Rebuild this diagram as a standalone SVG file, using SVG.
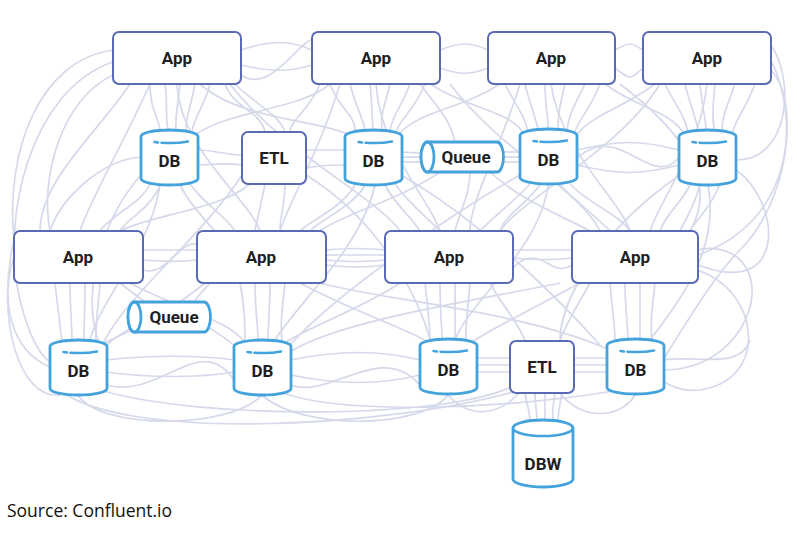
<svg xmlns="http://www.w3.org/2000/svg" xmlns:xlink="http://www.w3.org/1999/xlink" width="800" height="534" viewBox="0 0 800 534">
<style>
.c{fill:none;stroke:#d5d9ea;stroke-width:1.7}
.box{fill:#fff;stroke:#5a6ab4;stroke-width:2}
.cyl{fill:#fff;stroke:#44a2dc;stroke-width:2.8}
.cylf{fill:none;stroke:#44a2dc;stroke-width:2.6;stroke-linecap:round}
.t{font-family:Roboto,"Liberation Sans",Arial,sans-serif;font-weight:700;font-size:17px;fill:#1e1e1e;text-anchor:middle}
.src{font-family:"Open Sans","Liberation Sans",sans-serif;font-size:17.5px;fill:#111}
</style>
<defs>
<g id="cyl">
<path class="cyl" d="M0,6.5 A28.5,6.5 0 0 1 57,6.5 V48.5 A28.5,6.5 0 0 1 0,48.5 Z"/>
<path class="cylf" d="M13.5,12 L17,12.5 M20.5,12.7 A28.5,6.5 0 0 0 47,11.45"/>
</g>
<g id="que">
<path class="cyl" d="M6.5,0 H76 A6.5,15 0 0 1 76,30 H6.5 A6.5,15 0 0 1 6.5,0 Z"/>
<ellipse class="cyl" cx="6.5" cy="15" rx="6.5" ry="15"/>
</g>
</defs>
<rect width="800" height="534" fill="#fff"/>
<g id="connectors">
<path class="c" d="M150 84 C150 110 158 115 160 130"/>
<path class="c" d="M165 84 C168 105 165 115 168 130"/>
<path class="c" d="M180 84 C178 105 175 115 176 130"/>
<path class="c" d="M195 84 C190 110 185 120 186 130"/>
<path class="c" d="M210 84 C205 105 195 115 192 131"/>
<path class="c" d="M225 84 C235 110 260 110 265 132"/>
<path class="c" d="M235 84 C250 100 280 115 285 132"/>
<path class="c" d="M200 84 C240 120 320 120 350 135"/>
<path class="c" d="M241 50 C270 40 290 40 312 50"/>
<path class="c" d="M241 65 C270 72 290 72 312 65"/>
<path class="c" d="M241 75 C270 95 300 40 312 40"/>
<path class="c" d="M440 50 C460 42 470 42 488 50"/>
<path class="c" d="M440 68 C460 75 470 75 488 68"/>
<path class="c" d="M615 50 C630 42 630 42 643 50"/>
<path class="c" d="M615 68 C630 80 630 80 643 68"/>
<path class="c" d="M330 84 C300 110 230 110 195 135"/>
<path class="c" d="M320 84 C310 110 290 120 290 132"/>
<path class="c" d="M330 84 C340 110 355 115 355 130"/>
<path class="c" d="M350 84 C355 105 362 115 365 130"/>
<path class="c" d="M370 84 C372 105 372 115 373 128"/>
<path class="c" d="M390 84 C385 105 380 115 382 129"/>
<path class="c" d="M410 84 C400 110 392 115 390 131"/>
<path class="c" d="M425 84 C415 110 398 120 396 133"/>
<path class="c" d="M430 84 C470 110 510 110 525 135"/>
<path class="c" d="M420 84 C440 110 450 120 455 142"/>
<path class="c" d="M500 84 C460 110 420 110 398 135"/>
<path class="c" d="M505 84 C515 105 525 115 528 132"/>
<path class="c" d="M525 84 C530 105 535 115 538 129"/>
<path class="c" d="M545 84 C545 105 548 115 548 128"/>
<path class="c" d="M565 84 C560 105 558 115 558 129"/>
<path class="c" d="M585 84 C575 105 568 115 567 131"/>
<path class="c" d="M600 84 C590 110 578 120 574 134"/>
<path class="c" d="M605 84 C640 110 670 110 685 135"/>
<path class="c" d="M655 84 C620 110 590 115 575 137"/>
<path class="c" d="M665 84 C675 105 685 115 688 133"/>
<path class="c" d="M685 84 C690 105 695 115 698 129"/>
<path class="c" d="M700 84 C702 105 705 115 706 129"/>
<path class="c" d="M715 84 C713 105 712 115 714 129"/>
<path class="c" d="M735 84 C728 105 722 115 722 130"/>
<path class="c" d="M755 84 C745 110 735 120 732 134"/>
<path class="c" d="M771 70 C800 100 790 200 740 250 C720 270 700 300 663 360"/>
<path class="c" d="M771 45 C795 80 790 160 736 160"/>
<path class="c" d="M771 60 C800 120 795 220 698 255"/>
<path class="c" d="M113 50 C40 60 5 150 14 240"/>
<path class="c" d="M113 75 C60 100 40 180 50 231"/>
<path class="c" d="M113 62 C30 90 0 220 20 300 C30 340 40 355 50 362"/>
<path class="c" d="M198 150 C215 150 225 155 242 155"/>
<path class="c" d="M198 165 C220 165 225 162 242 165"/>
<path class="c" d="M306 150 C320 150 330 150 345 150"/>
<path class="c" d="M306 168 C320 165 330 165 345 165"/>
<path class="c" d="M401 152 C410 152 412 153 421 153"/>
<path class="c" d="M401 157 H421"/>
<path class="c" d="M401 162 H421"/>
<path class="c" d="M503 152 H520"/>
<path class="c" d="M503 157 H520"/>
<path class="c" d="M503 162 H520"/>
<path class="c" d="M577 150 C620 140 640 140 679 150"/>
<path class="c" d="M577 165 C620 175 640 175 679 165"/>
<path class="c" d="M577 158 C620 120 650 190 679 158"/>
<path class="c" d="M141 157 C100 160 60 200 50 231"/>
<path class="c" d="M150 184 C140 205 110 215 100 231"/>
<path class="c" d="M160 185 C150 210 125 220 120 231"/>
<path class="c" d="M180 185 C190 205 205 220 215 231"/>
<path class="c" d="M190 184 C205 205 225 215 235 231"/>
<path class="c" d="M160 185 C150 250 100 300 90 340"/>
<path class="c" d="M265 184 C262 200 258 215 255 231"/>
<path class="c" d="M285 184 C285 205 280 215 280 231"/>
<path class="c" d="M250 184 C220 210 150 215 120 231"/>
<path class="c" d="M355 185 C340 210 310 220 300 231"/>
<path class="c" d="M365 185 C355 205 320 220 310 231"/>
<path class="c" d="M385 185 C395 205 410 215 420 231"/>
<path class="c" d="M395 184 C410 205 430 220 440 231"/>
<path class="c" d="M375 185 C360 250 300 300 275 340"/>
<path class="c" d="M470 172 C470 195 460 210 455 231"/>
<path class="c" d="M440 172 C400 200 340 215 320 231"/>
<path class="c" d="M490 172 C520 200 560 215 590 231"/>
<path class="c" d="M530 184 C510 205 490 220 480 231"/>
<path class="c" d="M540 185 C525 205 505 215 500 231"/>
<path class="c" d="M560 185 C580 205 600 220 610 231"/>
<path class="c" d="M570 184 C590 205 620 215 630 231"/>
<path class="c" d="M548 185 C540 250 470 300 455 340"/>
<path class="c" d="M690 185 C680 205 665 215 660 231"/>
<path class="c" d="M700 185 C695 205 685 220 680 231"/>
<path class="c" d="M720 184 C710 210 695 220 690 231"/>
<path class="c" d="M708 185 C720 250 680 300 650 340"/>
<path class="c" d="M736 170 C780 200 790 300 698 265"/>
<path class="c" d="M551 84 C560 150 620 200 630 231"/>
<path class="c" d="M376 84 C380 150 430 200 440 231"/>
<path class="c" d="M177 84 C180 150 250 200 260 231"/>
<path class="c" d="M150 84 C120 150 90 200 80 231"/>
<path class="c" d="M707 84 C700 150 660 200 650 231"/>
<path class="c" d="M340 84 C320 150 290 200 280 231"/>
<path class="c" d="M520 84 C500 150 470 200 470 231"/>
<path class="c" d="M660 84 C620 150 520 200 500 231"/>
<path class="c" d="M230 84 C280 150 380 200 400 231"/>
<path class="c" d="M450 84 C500 150 580 190 600 231"/>
<path class="c" d="M620 84 C680 130 720 180 690 231"/>
<path class="c" d="M130 84 C100 130 40 180 40 231"/>
<path class="c" d="M306 175 C380 220 420 300 430 340"/>
<path class="c" d="M401 175 C480 220 560 300 600 345"/>
<path class="c" d="M520 175 C440 220 330 300 290 345"/>
<path class="c" d="M141 175 C100 220 80 300 100 345"/>
<path class="c" d="M680 175 C600 230 560 300 560 341"/>
<path class="c" d="M242 175 C200 240 120 300 100 350"/>
<path class="c" d="M143 250 H197"/>
<path class="c" d="M143 260 C165 262 180 262 197 260"/>
<path class="c" d="M143 270 C165 278 180 240 197 244"/>
<path class="c" d="M326 250 C350 248 360 248 385 250"/>
<path class="c" d="M326 255 H385"/>
<path class="c" d="M326 260 C350 262 360 262 385 260"/>
<path class="c" d="M326 265 C350 268 365 268 385 265"/>
<path class="c" d="M513 250 H572"/>
<path class="c" d="M513 258 C540 260 550 260 572 258"/>
<path class="c" d="M513 268 C540 240 550 280 572 265"/>
<path class="c" d="M697 250 C740 240 770 280 740 330 C720 360 690 370 663 370"/>
<path class="c" d="M697 270 C760 290 770 380 700 390 C680 392 670 385 660 380"/>
<path class="c" d="M14 257 C0 300 10 350 50 367"/>
<path class="c" d="M14 240 C-5 320 20 400 60 395"/>
<path class="c" d="M55 283 C58 310 60 325 62 342"/>
<path class="c" d="M70 283 C70 310 72 325 72 340"/>
<path class="c" d="M85 283 C85 310 84 325 84 340"/>
<path class="c" d="M100 283 C98 310 95 325 96 342"/>
<path class="c" d="M120 283 C135 295 140 298 145 302"/>
<path class="c" d="M130 283 C180 310 230 320 245 343"/>
<path class="c" d="M240 283 C245 310 245 325 245 342"/>
<path class="c" d="M255 283 C255 310 258 325 258 340"/>
<path class="c" d="M270 283 C270 310 268 325 268 340"/>
<path class="c" d="M285 283 C282 310 280 325 282 342"/>
<path class="c" d="M210 283 C200 295 195 298 195 302"/>
<path class="c" d="M205 283 C160 320 120 335 100 345"/>
<path class="c" d="M300 283 C350 310 410 330 430 343"/>
<path class="c" d="M425 283 C428 310 430 325 430 342"/>
<path class="c" d="M440 283 C440 310 442 325 442 340"/>
<path class="c" d="M455 283 C455 310 455 325 455 340"/>
<path class="c" d="M470 283 C468 310 465 325 466 342"/>
<path class="c" d="M400 283 C360 310 300 330 282 345"/>
<path class="c" d="M490 283 C505 310 520 325 525 341"/>
<path class="c" d="M610 283 C612 310 615 325 615 342"/>
<path class="c" d="M625 283 C625 310 628 325 628 340"/>
<path class="c" d="M640 283 C640 310 640 325 640 340"/>
<path class="c" d="M655 283 C652 310 650 325 652 342"/>
<path class="c" d="M590 283 C575 310 565 325 560 341"/>
<path class="c" d="M580 283 C530 310 490 330 470 343"/>
<path class="c" d="M320 283 C380 300 520 310 610 350"/>
<path class="c" d="M560 283 C480 300 340 320 290 352"/>
<path class="c" d="M135 325 C120 335 110 340 104 348"/>
<path class="c" d="M205 325 C220 335 230 340 236 348"/>
<path class="c" d="M106 360 C150 355 200 355 234 360"/>
<path class="c" d="M106 372 C150 378 200 378 234 372"/>
<path class="c" d="M106 385 C160 400 200 330 234 380"/>
<path class="c" d="M290 360 C340 350 380 350 420 360"/>
<path class="c" d="M290 375 C340 385 380 385 420 375"/>
<path class="c" d="M290 385 C330 400 380 340 420 385"/>
<path class="c" d="M476 358 H510"/>
<path class="c" d="M476 365 H510"/>
<path class="c" d="M476 372 H510"/>
<path class="c" d="M574 358 H607"/>
<path class="c" d="M574 365 H607"/>
<path class="c" d="M574 372 H607"/>
<path class="c" d="M663 360 C700 355 740 370 750 340"/>
<path class="c" d="M78 395 C100 430 230 430 262 395"/>
<path class="c" d="M262 395 C300 430 420 430 448 395"/>
<path class="c" d="M100 390 C200 420 450 420 515 385"/>
<path class="c" d="M60 390 C120 440 380 430 520 390"/>
<path class="c" d="M280 392 C340 415 500 410 620 390"/>
<path class="c" d="M525 393 C527 405 530 412 530 422"/>
<path class="c" d="M535 393 C535 405 537 412 537 420"/>
<path class="c" d="M545 393 C545 405 545 412 545 420"/>
<path class="c" d="M555 393 C553 405 552 412 553 420"/>
<path class="c" d="M562 393 C560 405 558 412 558 421"/>
<path class="c" d="M635 395 C620 420 580 420 560 393"/>
<path class="c" d="M448 395 C470 420 500 415 520 392"/>
</g>
<g id="app1"><rect class="box" x="113" y="32" width="128" height="52" rx="6"/><text class="t" x="177" y="64">App</text></g>
<g id="app2"><rect class="box" x="312" y="32" width="128" height="52" rx="6"/><text class="t" x="376" y="64">App</text></g>
<g id="app3"><rect class="box" x="488" y="32" width="127" height="52" rx="6"/><text class="t" x="551" y="64">App</text></g>
<g id="app4"><rect class="box" x="643" y="32" width="128" height="52" rx="6"/><text class="t" x="707" y="64">App</text></g>
<g id="db1" transform="translate(141,130)"><use xlink:href="#cyl" href="#cyl"/><text class="t" x="28.5" y="37">DB</text></g>
<g id="etl1"><rect class="box" x="242" y="132" width="64" height="52" rx="6"/><text class="t" x="274" y="164">ETL</text></g>
<g id="db2" transform="translate(345,130)"><use xlink:href="#cyl" href="#cyl"/><text class="t" x="28.5" y="37">DB</text></g>
<g id="queue1" transform="translate(421,142)"><use xlink:href="#que" href="#que"/><text class="t" x="45" y="21">Queue</text></g>
<g id="db3" transform="translate(520,129)"><use xlink:href="#cyl" href="#cyl"/><text class="t" x="28.5" y="37">DB</text></g>
<g id="db4" transform="translate(679,130)"><use xlink:href="#cyl" href="#cyl"/><text class="t" x="28.5" y="37">DB</text></g>
<g id="app5"><rect class="box" x="14" y="231" width="129" height="52" rx="6"/><text class="t" x="78" y="263">App</text></g>
<g id="app6"><rect class="box" x="197" y="231" width="129" height="52" rx="6"/><text class="t" x="261" y="263">App</text></g>
<g id="app7"><rect class="box" x="385" y="231" width="128" height="52" rx="6"/><text class="t" x="449" y="263">App</text></g>
<g id="app8"><rect class="box" x="572" y="231" width="126" height="52" rx="6"/><text class="t" x="635" y="263">App</text></g>
<g id="queue2" transform="translate(128,302)"><use xlink:href="#que" href="#que"/><text class="t" x="46" y="21">Queue</text></g>
<g id="db5" transform="translate(50,340)"><use xlink:href="#cyl" href="#cyl"/><text class="t" x="28.5" y="37">DB</text></g>
<g id="db6" transform="translate(234,340)"><use xlink:href="#cyl" href="#cyl"/><text class="t" x="28.5" y="37">DB</text></g>
<g id="db7" transform="translate(420,339)"><use xlink:href="#cyl" href="#cyl"/><text class="t" x="28.5" y="37">DB</text></g>
<g id="etl2"><rect class="box" x="510" y="341" width="64" height="52" rx="6"/><text class="t" x="542" y="373">ETL</text></g>
<g id="db8" transform="translate(607,339)"><use xlink:href="#cyl" href="#cyl"/><text class="t" x="28.5" y="37">DB</text></g>
<g id="dbw" transform="translate(513,420)">
<path class="cyl" d="M0,8 A30,8 0 0 1 60,8 V59 A30,8 0 0 1 0,59 Z"/>
<path class="cylf" d="M0,8 A30,8 0 0 0 60,8"/>
<text class="t" x="30" y="50">DBW</text>
</g>
<text class="src" x="7" y="517">Source: Confluent.io</text>
</svg>
